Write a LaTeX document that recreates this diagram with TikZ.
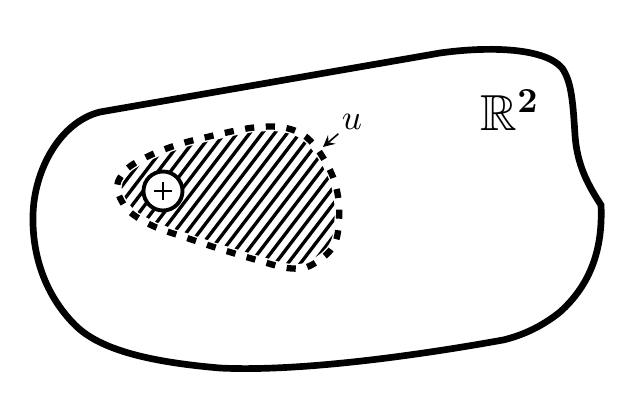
\documentclass[tikz,border=0pt]{standalone}
\usepackage{amssymb}
\newcommand{\innerblob}{plot[smooth cycle, tension=0.55] coordinates {(117,187) (128,168) (153,154) (180,144) (207,137) (250,128) (280,127) (302,134) (318,150) (333,177) (339,205) (337,237) (327,254) (307,267) (287,268) (260,261) (220,249) (187,238) (153,226) (128,210)}}
\begin{document}
\begin{tikzpicture}[>=stealth, x=0.01cm, y=-0.01cm]
\useasboundingbox (0,0) rectangle (640,400);
\draw[line width=1.9pt] (100,112)--(440,53) .. controls (490,46) and (545,48) .. (562,68)
  .. controls (572,82) and (573,105) .. (575,135) .. controls (577,165) and (588,185) .. (601,205)
  .. controls (603,250) and (590,285) .. (560,312) .. controls (540,328) and (520,336) .. (503,340)
  .. controls (420,355) and (300,372) .. (220,368) .. controls (150,362) and (100,350) .. (75,325)
  .. controls (45,295) and (32,255) .. (33,215) .. controls (34,170) and (60,122) .. (100,112)--cycle;
\begin{scope}
\clip \innerblob;
\foreach \i in {0,...,30}
  \draw[line width=0.95pt] (-15+12.5*\i,300)--++(170,-223);
\end{scope}
\draw[white, line width=2.6pt] \innerblob;
\draw[line width=1.8pt, dash pattern=on 2.6pt off 3.3pt] \innerblob;
\node[circle, draw, fill=white, line width=1.1pt, minimum size=0.39cm, inner sep=0pt] (plus) at (163,191) {};
\draw[line width=0.8pt] (plus.center)++(-9,0)--++(18,0) (plus.center)++(0,-9)--++(0,18);
\node (R2) at (510,110) {\Large$\mathbb{R}^{\mathbf{2}}$};
\node[inner sep=1pt] (u) at (352,122) {$u$};
\coordinate (utip) at (323,147);
\draw[->, line width=0.45pt] (u)--(utip);
\end{tikzpicture}
\end{document}
